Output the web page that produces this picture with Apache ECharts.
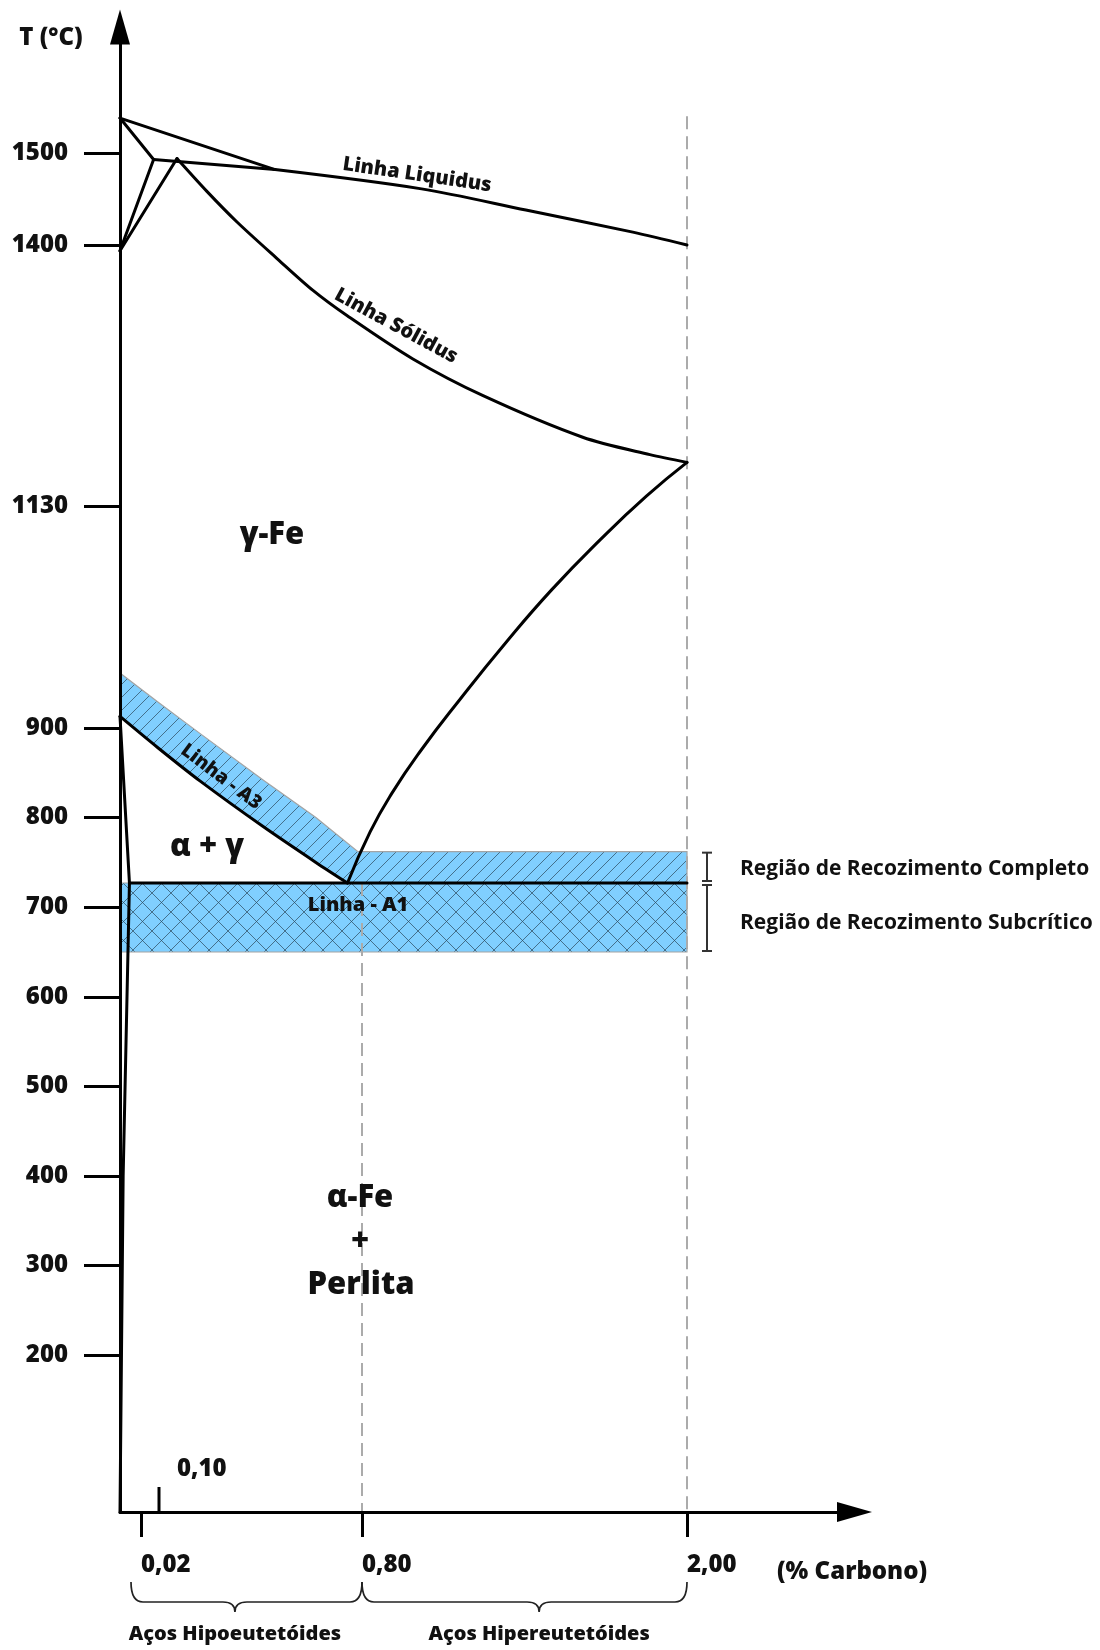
<!DOCTYPE html>
<html>
<head>
<meta charset="utf-8">
<script src="https://cdn.jsdelivr.net/npm/echarts@6/dist/echarts.min.js"></script>
<style>
  html, body { margin: 0; padding: 0; background: #ffffff; }
  #chart { width: 1100px; height: 1650px; }
</style>
</head>
<body>
<div id="chart"></div>
<script>
// Fe–C diagram, steel side, with the full and subcritical annealing ranges.

// ---- axis ticks ----
const T_TICKS = [200, 300, 400, 500, 600, 700, 800, 900, 1130, 1400, 1500];
const C_TICKS = [0.02, 0.80, 2.00];
const C_MINOR_TICK = 0.10;

// ---- phase boundaries: [% C, °C] ----
const DELTA_LIQUIDUS = [[0, 1538], [0.50, 1482]];
const LIQUIDUS = [[0.50, 1482], [1.02, 1461], [1.405, 1438], [1.80, 1414], [2.00, 1400]];
const DELTA_SOLIDUS = [[0, 1538], [0.076, 1493]];
const PERITECTIC = [[0.076, 1493], [0.50, 1482]];
const DELTA_GAMMA_LOW = [[0.076, 1493], [0, 1394]];
const DELTA_GAMMA_HIGH = [[0.162, 1494], [0, 1394]];
const SOLIDUS = [[0.162, 1494], [0.266, 1458], [0.369, 1425], [0.507, 1386], [0.631, 1353],
                 [0.748, 1327], [0.988, 1282], [1.247, 1244], [1.615, 1201], [1.863, 1183], [2.00, 1175]];
const ACM = [[2.00, 1175], [1.85, 1140], [1.68, 1095], [1.50, 1043], [1.33, 988],
             [1.16, 929], [1.02, 876], [0.91, 827], [0.83, 784], [0.75, 727]];
const A3 = [[0, 912], [0.095, 878], [0.241, 841], [0.459, 790], [0.641, 750], [0.75, 727]];
const A1 = [[0.009, 727], [2.00, 727]];
const FERRITE_SOLVUS = [[0, 912], [0.009, 727], [0.003, 400], [0, 25]];

// ---- annealing ranges ----
const FULL_ANNEAL_TOP = [[0, 957], [0.095, 927], [0.241, 894], [0.459, 842], [0.641, 800], [0.786, 762], [2.00, 762]];
const A1_T = 727;
const SUBCRITICAL_BOTTOM_T = 650;

// ---- guides ----
const GUIDE_EUTECTOID = [[0.80, 727], [0.80, 25]];
const GUIDE_MAX_C = [[2.00, 1540], [2.00, 25]];

// The diagram is schematic: each stretch between these compositions /
// temperatures gets its own length along the axis.
const C_KNOTS = [0, 0.02, 0.10, 0.80, 2.00, 2.62];
const C_AXIS_LEN = [0, 21, 39, 242, 567, 734.5];
const T_KNOTS = [25, 900, 1400, 1637];
const T_AXIS_LEN = [0, 784, 1267, 1485];

function piecewise(knots, lens) {
  return function (v) {
    for (let i = 1; i < knots.length; i++) {
      if (v <= knots[i] || i === knots.length - 1) {
        const t = (v - knots[i - 1]) / (knots[i] - knots[i - 1]);
        return lens[i - 1] + t * (lens[i] - lens[i - 1]);
      }
    }
  };
}
const sx = piecewise(C_KNOTS, C_AXIS_LEN);
const sy = piecewise(T_KNOTS, T_AXIS_LEN);
const toXY = pts => pts.map(p => [sx(p[0]), sy(p[1])]);
const fmtC = c => c.toFixed(2).replace('.', ',');

const INK = '#111111';
const FONT = '"Open Sans", "Noto Sans", sans-serif';
const BAND_BLUE = '#80cfff';
const HATCH = 'rgba(45, 75, 96, 0.72)';
const BAND_EDGE = '#a4a4a4';
const LINE_W = 3;

function hatchTile(size, cross) {
  const c = document.createElement('canvas');
  c.width = size; c.height = size;
  const g = c.getContext('2d');
  g.fillStyle = BAND_BLUE;
  g.fillRect(0, 0, size, size);
  g.strokeStyle = HATCH;
  g.lineWidth = 1;
  g.beginPath();
  for (const o of [-size, 0, size]) {
    g.moveTo(o, size); g.lineTo(o + size, 0);
    if (cross) { g.moveTo(o, 0); g.lineTo(o + size, size); }
  }
  g.stroke();
  return c;
}

function bandSeries(name, pts, tile) {
  return {
    type: 'custom', name, z: 1, silent: true, clip: false,
    data: toXY(pts),
    renderItem(params, api) {
      if (params.dataIndex !== 0) return null;
      const points = pts.map(p => api.coord([sx(p[0]), sy(p[1])]));
      return {
        type: 'polygon',
        shape: { points },
        style: { fill: { image: tile, repeat: 'repeat' }, stroke: BAND_EDGE, lineWidth: 1.2 }
      };
    }
  };
}

function curve(name, pts, extra) {
  return Object.assign({
    type: 'line', name, data: toXY(pts), z: 3,
    symbol: 'none', showSymbol: false, silent: true, clip: false,
    lineStyle: { color: '#000', width: LINE_W, cap: 'round', join: 'round' },
    emphasis: { disabled: true }
  }, extra || {});
}

function guide(name, pts) {
  return curve(name, pts, { z: 2, lineStyle: { color: '#ababab', width: 2, type: [13, 7] } });
}

const upperBand = FULL_ANNEAL_TOP.concat([[2.00, A1_T]], A3.slice().reverse());
const lowerBand = [[0, A1_T], [2.00, A1_T], [2.00, SUBCRITICAL_BOTTOM_T], [0, SUBCRITICAL_BOTTOM_T]];

function bracePath(xa, xb, xp, y0) {
  const y1 = y0 + 20, y2 = y0 + 30, r = 12;
  return 'M' + xa + ',' + y0 + ' Q' + xa + ',' + y1 + ' ' + (xa + r) + ',' + y1 +
         ' L' + (xp - r) + ',' + y1 + ' Q' + xp + ',' + y1 + ' ' + xp + ',' + y2 +
         ' Q' + xp + ',' + y1 + ' ' + (xp + r) + ',' + y1 +
         ' L' + (xb - r) + ',' + y1 + ' Q' + xb + ',' + y1 + ' ' + xb + ',' + y0;
}

function textStyle(text, size, weight, align) {
  return {
    text, fill: INK, font: weight + ' ' + size + 'px ' + FONT,
    align: align || 'center', verticalAlign: 'middle',
    textAlign: align || 'center', textVerticalAlign: 'middle'
  };
}

// Decorations tied to the axes: the inner 0,10 tick, the steel-class braces
// and the range brackets beside the 2,00 % end.
const annotations = {
  type: 'custom', z: 6, silent: true, clip: false,
  data: [[0, 0]],
  renderItem(params, api) {
    const xAt = c => api.coord([sx(c), 0])[0];
    const yAt = t => api.coord([0, sy(t)])[1];
    const yAxisLine = yAt(25);
    const kids = [];

    const xm = xAt(C_MINOR_TICK);
    kids.push({ type: 'line', shape: { x1: xm, y1: yAxisLine, x2: xm, y2: yAxisLine - 25 },
                style: { stroke: '#000', lineWidth: 3 } });
    kids.push({ type: 'text', x: xm + 18, y: yAxisLine - 43, style: textStyle(fmtC(C_MINOR_TICK), 24, 800, 'left') });

    const y0 = yAxisLine + 70;
    const xa = xAt(C_TICKS[0]) - 10, xmid = xAt(C_TICKS[1]), xb = xAt(C_TICKS[2]);
    const p1 = xa + 0.45 * (xmid - xa), p2 = xmid + 0.545 * (xb - xmid);
    kids.push({ type: 'path', shape: { pathData: bracePath(xa, xmid, p1, y0) },
                style: { stroke: '#222', lineWidth: 1.7, fill: null } });
    kids.push({ type: 'path', shape: { pathData: bracePath(xmid, xb, p2, y0) },
                style: { stroke: '#222', lineWidth: 1.7, fill: null } });
    kids.push({ type: 'text', x: p1, y: y0 + 52, style: textStyle('Aços Hipoeutetóides', 20, 800) });
    kids.push({ type: 'text', x: p2, y: y0 + 52, style: textStyle('Aços Hipereutetóides', 20, 800) });

    const xr = xb + 20;
    const ranges = [[FULL_ANNEAL_TOP[FULL_ANNEAL_TOP.length - 1][1], A1_T, 1, -2],
                    [A1_T, SUBCRITICAL_BOTTOM_T, 2, -1]];
    ranges.forEach(([tTop, tBot, padTop, padBot]) => {
      const ya = yAt(tTop) + padTop, yb = yAt(tBot) + padBot;
      const st = { stroke: '#333', lineWidth: 2 };
      kids.push({ type: 'line', shape: { x1: xr, y1: ya, x2: xr, y2: yb }, style: st });
      kids.push({ type: 'line', shape: { x1: xr - 5, y1: ya, x2: xr + 5, y2: ya }, style: st });
      kids.push({ type: 'line', shape: { x1: xr - 5, y1: yb, x2: xr + 5, y2: yb }, style: st });
    });
    return { type: 'group', children: kids };
  }
};

function graphicText(text, x, y, size, opts) {
  opts = opts || {};
  return {
    type: 'text', x, y, z: 20, silent: true,
    rotation: opts.rot ? -opts.rot * Math.PI / 180 : 0,
    style: textStyle(text, size, opts.weight || 800, opts.align)
  };
}

const chart = echarts.init(document.getElementById('chart'), null, { renderer: 'canvas' });
chart.setOption({
  animation: false,
  backgroundColor: '#ffffff',
  grid: { left: 120, right: 245.5, top: 27, bottom: 138, containLabel: false },
  xAxis: {
    type: 'value', min: 0, max: C_AXIS_LEN[C_AXIS_LEN.length - 1], z: 8,
    axisLine: { onZero: false, lineStyle: { color: '#000', width: 3 },
                symbol: ['none', 'triangle'], symbolSize: [20, 35] },
    axisTick: { show: true, length: 25, lineStyle: { color: '#000', width: 3 },
                customValues: C_TICKS.map(sx) },
    axisLabel: {
      customValues: C_TICKS.map(sx), margin: 41, align: 'left',
      color: INK, fontFamily: FONT, fontWeight: 800, fontSize: 24,
      formatter: v => { const c = C_TICKS.find(c => Math.abs(sx(c) - v) < 1e-3); return c == null ? '' : fmtC(c); }
    },
    splitLine: { show: false }
  },
  yAxis: {
    type: 'value', min: 0, max: T_AXIS_LEN[T_AXIS_LEN.length - 1], z: 8,
    axisLine: { onZero: false, lineStyle: { color: '#000', width: 3 },
                symbol: ['none', 'triangle'], symbolSize: [20, 35] },
    axisTick: { show: true, length: 36, lineStyle: { color: '#000', width: 3 },
                customValues: T_TICKS.map(sy) },
    axisLabel: {
      customValues: T_TICKS.map(sy), margin: 52,
      color: INK, fontFamily: FONT, fontWeight: 800, fontSize: 24,
      formatter: v => { const t = T_TICKS.find(t => Math.abs(sy(t) - v) < 1e-3); return t == null ? '' : String(t); }
    },
    splitLine: { show: false }
  },
  series: [
    bandSeries('Recozimento completo', upperBand, hatchTile(13, false)),
    bandSeries('Recozimento subcrítico', lowerBand, hatchTile(19, true)),
    guide('0,80 %', GUIDE_EUTECTOID),
    guide('2,00 %', GUIDE_MAX_C),
    curve('Liquidus δ', DELTA_LIQUIDUS),
    curve('Linha Liquidus', LIQUIDUS, { smooth: 0.3 }),
    curve('Solidus δ', DELTA_SOLIDUS),
    curve('Peritético', PERITECTIC),
    curve('δ/δ+γ', DELTA_GAMMA_LOW),
    curve('δ+γ/γ', DELTA_GAMMA_HIGH),
    curve('Linha Sólidus', SOLIDUS, { smooth: 0.3 }),
    curve('Acm', ACM, { smooth: 0.5 }),
    curve('Linha - A3', A3, { smooth: 0.3 }),
    curve('Linha - A1', A1),
    curve('Solvus α', FERRITE_SOLVUS),
    annotations
  ],
  graphic: [
    graphicText('T (°C)', 51, 38, 24),
    graphicText('γ-Fe', 272, 535, 31),
    graphicText('α + γ', 207, 847, 31),
    graphicText('α-Fe', 360, 1198, 31),
    graphicText('+', 360, 1242, 31),
    graphicText('Perlita', 361, 1285, 31),
    graphicText('Linha Liquidus', 417, 175, 20, { rot: 8.3 }),
    graphicText('Linha Sólidus', 396, 326, 20, { rot: 28.4 }),
    graphicText('Linha - A3', 221, 777, 19, { rot: 37 }),
    graphicText('Linha - A1', 358, 905, 20),
    graphicText('Região de Recozimento Completo', 740, 869, 21, { align: 'left', weight: 700 }),
    graphicText('Região de Recozimento Subcrítico', 740, 923, 21, { align: 'left', weight: 700 }),
    graphicText('(% Carbono)', 777, 1572, 24, { align: 'left' })
  ]
});
</script>
</body>
</html>
